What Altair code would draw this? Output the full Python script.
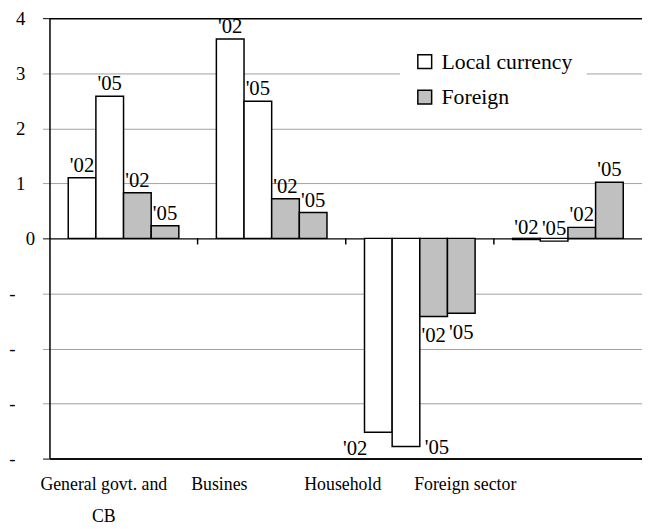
import altair as alt
import pandas as pd

sectors = ["General govt. and CB", "Busines", "Household", "Foreign sector"]
local_02 = [1.10, 3.62, -3.52, -0.02]
local_05 = [2.58, 2.49, -3.78, -0.05]
foreign_02 = [0.83, 0.72, -1.42, 0.20]
foreign_05 = [0.23, 0.47, -1.36, 1.02]
series_names = ["Local '02", "Local '05", "Foreign '02", "Foreign '05"]
currency_names = ["Local currency", "Foreign"]
years = ["'02", "'05"]
y_ticks = [-4, -3, -2, -1, 0, 1, 2, 3, 4]
group_bounds = [1, 2, 3]

rows = []
for s, cur, yr, vals in [
    (series_names[0], currency_names[0], years[0], local_02),
    (series_names[1], currency_names[0], years[1], local_05),
    (series_names[2], currency_names[1], years[0], foreign_02),
    (series_names[3], currency_names[1], years[1], foreign_05),
]:
    for sec, v in zip(sectors, vals):
        rows.append(dict(sector=sec, series=s, currency=cur, year=yr, value=v))
df = pd.DataFrame(rows)

FONT = "Liberation Serif"

x_enc = alt.X(
    "sector:N",
    sort=sectors,
    scale=alt.Scale(paddingInner=0.2533, paddingOuter=0.12667),
    axis=alt.Axis(
        title=None,
        labelAngle=0,
        ticks=False,
        domainColor="black",
        domainWidth=1.5,
        labelPadding=17,
        labelFont=FONT,
        labelFontSize=18,
        labelLineHeight=33,
        labelLimit=0,
        labelExpr="datum.label == 'General govt. and CB' ? ['General govt. and', 'CB'] : datum.label",
        labelOffset={
            "condition": [
                {"test": "datum.value == 'General govt. and CB'", "value": -20},
                {"test": "datum.value == 'Busines'", "value": -53},
                {"test": "datum.value == 'Household'", "value": -78},
            ],
            "value": -104,
        },
    ),
)
xo_enc = alt.XOffset("series:N", sort=series_names, scale=alt.Scale(paddingInner=0, paddingOuter=0))
y_scale = alt.Scale(domain=[-4, 4], nice=False)
y_axis = alt.Axis(
    values=y_ticks,
    title=None,
    grid=True,
    gridColor={"condition": {"test": "abs(datum.value) == 4 || datum.value == 0", "value": "black"}, "value": "#a0a0a0"},
    gridWidth={"condition": {"test": "abs(datum.value) == 4 || datum.value == 0", "value": 1.5}, "value": 1},
    tickColor={"condition": {"test": "abs(datum.value) == 4 || datum.value == 0", "value": "black"}, "value": "#a0a0a0"},
    tickSize=7,
    domainColor="black",
    domainWidth=1.5,
    labelFont=FONT,
    labelFontSize=19,
    labelAlign="right",
    labelPadding={
        "condition": [
            {"test": "datum.value == 0", "value": 8},
            {"test": "datum.value < 0", "value": 28},
        ],
        "value": 18,
    },
    labelExpr="datum.value < 0 ? '-' : datum.label",
)
y_enc = alt.Y("value:Q", stack=None, scale=y_scale, axis=y_axis)

base = alt.Chart(df)

bars = base.mark_bar(stroke="black", strokeWidth=1.5).encode(
    x=x_enc,
    xOffset=xo_enc,
    y=y_enc,
    color=alt.Color(
        "currency:N",
        scale=alt.Scale(domain=currency_names, range=["white", "#c0c0c0"]),
        legend=alt.Legend(
            title=None,
            orient="none",
            legendX=355,
            legendY=19,
            fillColor="white",
            padding=14,
            symbolType="square",
            symbolSize=196,
            symbolStrokeColor="black",
            symbolStrokeWidth=1.5,
            labelFontSize=22,
            labelFont=FONT,
            labelColor="black",
            rowPadding=14,
            labelOffset=6,
            labelLimit=0,
        ),
    ),
)

txt_common = dict(font=FONT, fontSize=21, color="black")
enc = dict(x=x_enc, xOffset=xo_enc, y=y_enc, text="year:N")

above = base.transform_filter("datum.value >= -0.1").mark_text(
    baseline="alphabetic", dy=-6, **txt_common
).encode(**enc)
below = base.transform_filter("datum.value < -0.1 && datum.value > -3").mark_text(
    baseline="top", dy=9, **txt_common
).encode(**enc)
deep02 = base.transform_filter("datum.value <= -3 && datum.year == \"'02\"").mark_text(
    baseline="top", align="right", dx=-11, dy=6, **txt_common
).encode(**enc)
deep05 = base.transform_filter("datum.value <= -3 && datum.year == \"'05\"").mark_text(
    baseline="top", align="left", dx=19, dy=-9, **txt_common
).encode(**enc)

main = alt.layer(bars, above, below, deep02, deep05)

ticks = alt.Chart(pd.DataFrame({"b": group_bounds})).mark_rule(color="black", strokeWidth=1.5).encode(
    x=alt.X("b:Q", scale=alt.Scale(domain=[0, 4], nice=False), axis=None),
    y=alt.YDatum(0, scale=y_scale, axis=y_axis),
    y2=alt.Y2Datum(-0.11),
)

chart = (
    alt.layer(main, ticks)
    .resolve_scale(x="independent")
    .properties(
        width=600,
        height=446,
        padding={"left": 42, "top": 7, "right": 0, "bottom": 68},
        autosize=alt.AutoSizeParams(type="none"),
        background="white",
    )
    .configure_view(stroke=None)
    .configure_axis(labelFont=FONT, labelColor="black")
    .configure_legend(labelFont=FONT)
    .configure_text(font=FONT)
)

chart.save("out.html", embed_options={"renderer": "svg", "actions": False})
